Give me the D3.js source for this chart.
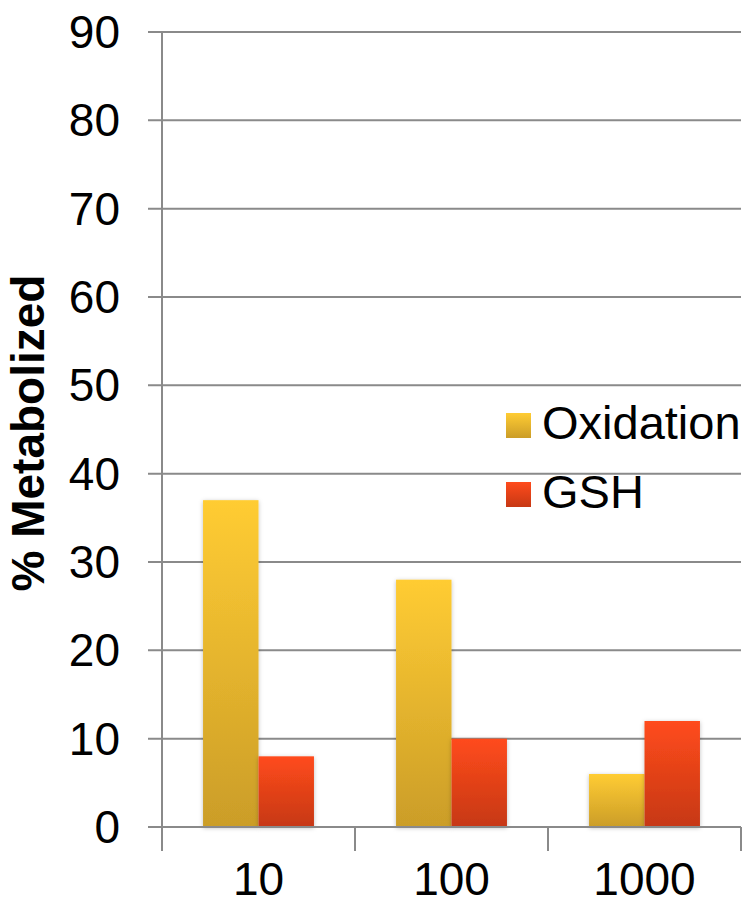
<!DOCTYPE html>
<html>
<head>
<meta charset="utf-8">
<script src="https://cdn.jsdelivr.net/npm/d3@7"></script>
<style>
  body { margin: 0; background: #fff; }
  text { font-family: "Liberation Sans", Arial, sans-serif; fill: #000; }
</style>
</head>
<body>
<div id="chart"></div>
<script>
// ====== % Metabolized by dose ======

const doses = ['10', '100', '1000'];
const seriesNames = ['Oxidation', 'GSH'];
const oxidation = [37, 28, 6];
const gsh = [8, 10, 12];
const yTicks = [0, 10, 20, 30, 40, 50, 60, 70, 80, 90];

const width = 748, height = 902;
const margin = {top: 32, right: 7, bottom: 75, left: 162};

const svg = d3.select('#chart').append('svg')
    .attr('width', width)
    .attr('height', height);

// gradients for the bars
const defs = svg.append('defs');
const grads = [
    {id: 'gOx', top: '#ffcc33', bottom: '#cb9d28'},
    {id: 'gGsh', top: '#ff4b1c', bottom: '#c63814'}
];
grads.forEach(function(g) {
    let lg = defs.append('linearGradient')
        .attr('id', g.id)
        .attr('x1', 0).attr('y1', 0).attr('x2', 0).attr('y2', 1);
    lg.append('stop').attr('offset', '0%').attr('stop-color', g.top);
    lg.append('stop').attr('offset', '100%').attr('stop-color', g.bottom);
});

// soft shadow
const shadow = defs.append('filter').attr('id', 'shadow')
    .attr('x', '-20%').attr('y', '-10%').attr('width', '140%').attr('height', '120%');
shadow.append('feDropShadow')
    .attr('dx', 0).attr('dy', 1).attr('stdDeviation', 2)
    .attr('flood-color', '#000').attr('flood-opacity', 0.25);

const x0 = d3.scaleBand()
    .domain(doses)
    .range([margin.left, width - margin.right])
    .paddingInner(0)
    .paddingOuter(0);

const x1 = d3.scaleBand()
    .domain(seriesNames)
    .range([0, x0.bandwidth()])
    .paddingOuter(0.74);

const y = d3.scaleLinear()
    .domain([0, 90])
    .range([height - margin.bottom, margin.top]);

// gridlines
svg.append('g').selectAll('line')
    .data(yTicks)
  .enter().append('line')
    .attr('x1', 148)
    .attr('x2', width - margin.right)
    .attr('y1', d => y(d))
    .attr('y2', d => y(d))
    .attr('stroke', '#8a8a8a')
    .attr('stroke-width', 2);

// y axis line
svg.append('line')
    .attr('x1', margin.left).attr('x2', margin.left)
    .attr('y1', y(90)).attr('y2', y(0))
    .attr('stroke', '#8a8a8a').attr('stroke-width', 2);

// y tick labels
svg.append('g').selectAll('text')
    .data(yTicks)
  .enter().append('text')
    .attr('x', 120)
    .attr('y', d => y(d) + 16)
    .attr('text-anchor', 'end')
    .style('font-size', '46px')
    .text(d => d);

// x category ticks
const xTickPos = doses.map(d => x0(d)).concat([x0(doses[doses.length - 1]) + x0.bandwidth()]);
svg.append('g').selectAll('line')
    .data(xTickPos)
  .enter().append('line')
    .attr('x1', d => d).attr('x2', d => d)
    .attr('y1', y(0)).attr('y2', y(0) + 24)
    .attr('stroke', '#8a8a8a').attr('stroke-width', 2);

// x labels
svg.append('g').selectAll('text')
    .data(doses)
  .enter().append('text')
    .attr('x', d => x0(d) + x0.bandwidth() / 2)
    .attr('y', 895)
    .attr('text-anchor', 'middle')
    .style('font-size', '46px')
    .text(d => d);

// bars
const rows = doses.map((d, i) => ({dose: d, values: [
    {name: 'Oxidation', v: oxidation[i], fill: 'url(#gOx)'},
    {name: 'GSH', v: gsh[i], fill: 'url(#gGsh)'}
]}));

const groups = svg.append('g').selectAll('g')
    .data(rows)
  .enter().append('g')
    .attr('transform', d => 'translate(' + x0(d.dose) + ',0)');

groups.selectAll('rect')
    .data(d => d.values)
  .enter().append('rect')
    .attr('x', d => x1(d.name))
    .attr('width', x1.bandwidth())
    .attr('y', d => y(d.v))
    .attr('height', d => y(0) - y(d.v))
    .attr('fill', d => d.fill)
    .attr('filter', 'url(#shadow)');

// redraw the x axis baseline over the bars
svg.append('line')
    .attr('x1', 148).attr('x2', width - margin.right)
    .attr('y1', y(0)).attr('y2', y(0))
    .attr('stroke', '#8a8a8a').attr('stroke-width', 2);

// y axis title
svg.append('text')
    .attr('transform', 'translate(44,433) rotate(-90)')
    .attr('text-anchor', 'middle')
    .style('font-size', '46px')
    .style('font-weight', 'bold')
    .text('% Metabolized');

// legend
const legend = svg.append('g').selectAll('g')
    .data(seriesNames)
  .enter().append('g')
    .attr('transform', (d, i) => 'translate(506,' + (413 + i * 69) + ')');

legend.append('rect')
    .attr('width', 25).attr('height', 25)
    .attr('fill', (d, i) => i === 0 ? 'url(#gOx)' : 'url(#gGsh)');

legend.append('text')
    .attr('x', 36)
    .attr('y', 26)
    .style('font-size', '47px')
    .text(d => d);
</script>
</body>
</html>
